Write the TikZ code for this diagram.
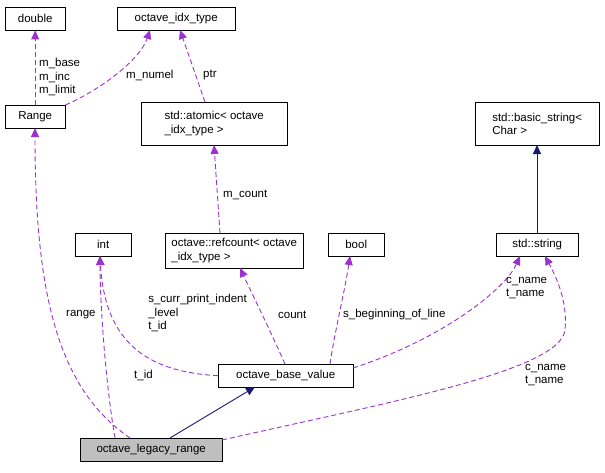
\documentclass[tikz,border=0pt]{standalone}
\usepackage{fontspec}
\setmainfont{Liberation Sans}
\usetikzlibrary{arrows.meta}
\begin{document}
\begin{tikzpicture}[x=1pt,y=-1pt,
  box/.style={draw,fill=white,font=\fontsize{11.5}{13.5}\selectfont,inner sep=2pt,align=left,anchor=north west},
  lbl/.style={font=\fontsize{11.5}{13.5}\selectfont,align=left,inner sep=1pt},
  use/.style={draw={rgb,255:red,154;green,50;blue,205},line width=0.9pt,dash pattern=on 5pt off 3pt,-{Triangle[length=9pt,width=8pt,fill={rgb,255:red,154;green,50;blue,205}]}},
  inh/.style={draw={rgb,255:red,25;green,25;blue,112},line width=0.9pt,-{Triangle[length=9pt,width=8pt,fill={rgb,255:red,25;green,25;blue,112}]}}]
\useasboundingbox (0,0) rectangle (605,472);
\node[box,minimum width=60pt,minimum height=23pt] (double) at (5,7) {double};
\node[box,minimum width=118pt,minimum height=23pt] (idx) at (117,7) {octave\_idx\_type};
\node[box,minimum width=60pt,minimum height=23pt] (range) at (5,105) {Range};
\node[box,minimum width=146pt,minimum height=43pt] (atomic) at (141,102) {std::atomic< octave\\\_idx\_type >};
\node[box,minimum width=124pt,minimum height=43pt] (bstr) at (475,102) {std::basic\_string<\\ Char >};
\node[box,minimum width=56pt,minimum height=23pt] (int) at (75,233) {int};
\node[box,minimum width=138pt,minimum height=35pt] (ref) at (165,233) {octave::refcount< octave\\\_idx\_type >};
\node[box,minimum width=56pt,minimum height=23pt] (bool) at (328,233) {bool};
\node[box,minimum width=82pt,minimum height=23pt] (str) at (496,233) {std::string};
\node[box,minimum width=135pt,minimum height=23pt] (obv) at (218,364) {octave\_base\_value};
\node[box,fill={rgb,255:red,191;green,191;blue,191},minimum width=142pt,minimum height=23pt] (olr) at (80,438) {octave\_legacy\_range};

\draw[use] (range.north) -- (double.south);
\node[lbl,anchor=west] at (38,77) {m\_base\\m\_inc\\m\_limit};
\draw[use] (range.north east) .. controls (100,90) and (140,60) .. (150,30);
\node[lbl,anchor=west] at (125,75) {m\_numel};
\draw[use] (205,102) -- (180,30);
\node[lbl,anchor=west] at (202,75) {ptr};
\draw[use] (220,233) -- (214,145);
\node[lbl,anchor=west] at (222,195) {m\_count};
\draw[use] (obv.west) .. controls (150,372) and (105,345) .. (100,256);
\node[lbl,anchor=east] at (248,313) {s\_curr\_print\_indent\\\_level\\t\_id};
\draw[use] (285,364) .. controls (270,330) and (255,300) .. (240,268);
\node[lbl,anchor=west] at (277,315) {count};
\draw[use] (330,364) .. controls (335,330) and (345,290) .. (350,256);
\node[lbl,anchor=west] at (342,315) {s\_beginning\_of\_line};
\draw[use] (353,368) .. controls (440,340) and (505,290) .. (520,256);
\node[lbl,anchor=west] at (505,288) {c\_name\\t\_name};
\draw[inh] (537,233) -- (537,145);
\draw[use] (130,438) .. controls (60,390) and (35,300) .. (35,128);
\node[lbl,anchor=west] at (65,315) {range};
\draw[use] (115,438) .. controls (105,380) and (100,300) .. (100,256);
\node[lbl,anchor=west] at (133,375) {t\_id};
\draw[use] (222,440) .. controls (400,400) and (560,370) .. (565,330) .. controls (568,300) and (555,275) .. (545,256);
\node[lbl,anchor=west] at (524,375) {c\_name\\t\_name};
\draw[inh] (170,438) -- (255,387);
\end{tikzpicture}
\end{document}
